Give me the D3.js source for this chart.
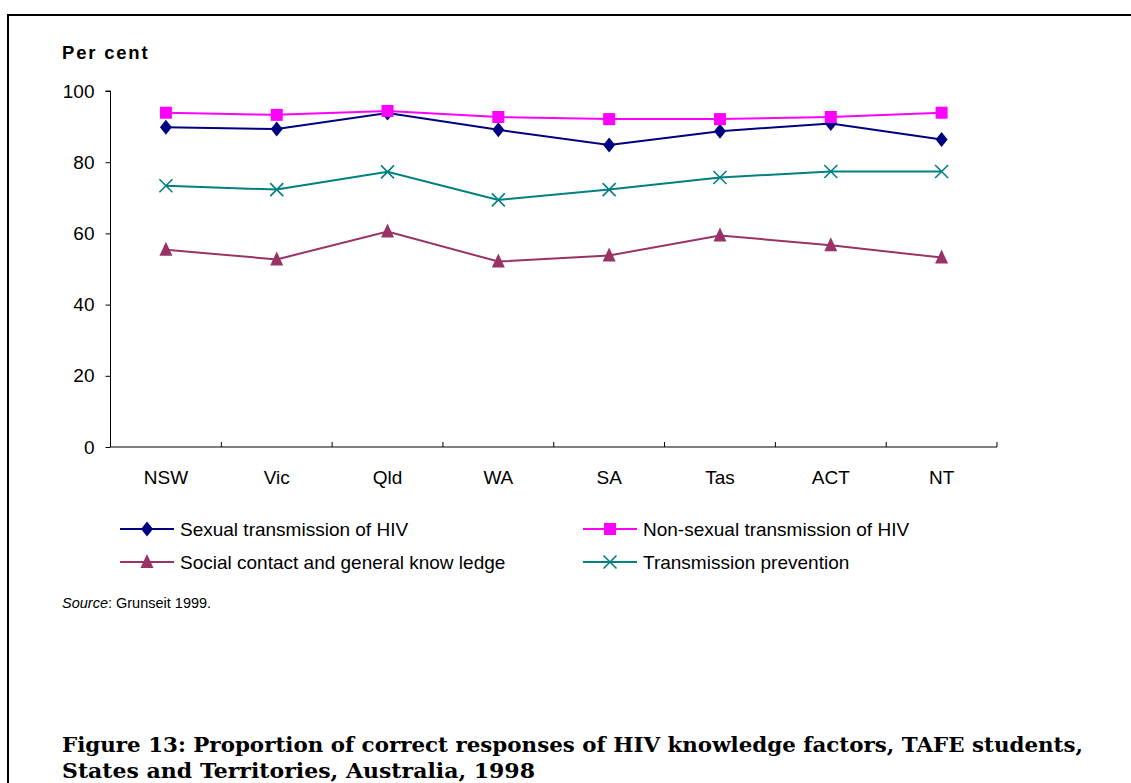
<!DOCTYPE html>
<html>
<head>
<meta charset="utf-8">
<script src="https://cdn.jsdelivr.net/npm/d3@7"></script>
<style>
  html, body { margin: 0; padding: 0; background: #fff; }
  svg { display: block; }
</style>
</head>
<body>
<svg id="chart" width="1131" height="783"></svg>
<script>
const categories = ["NSW", "Vic", "Qld", "WA", "SA", "Tas", "ACT", "NT"];
const sexualTransmission = [89.8, 89.3, 93.8, 89.1, 84.8, 88.7, 90.9, 86.4];
const nonSexualTransmission = [93.9, 93.3, 94.4, 92.7, 92.1, 92.1, 92.7, 93.9];
const socialContact = [55.4, 52.7, 60.5, 52.1, 53.8, 59.4, 56.7, 53.2];
const transmissionPrevention = [73.4, 72.3, 77.3, 69.4, 72.3, 75.7, 77.4, 77.4];
const yTicks = [0, 20, 40, 60, 80, 100];
const seriesNames = ["Sexual transmission of HIV", "Non-sexual transmission of HIV",
                     "Social contact and general know ledge", "Transmission prevention"];

const series = [
  { name: seriesNames[0], values: sexualTransmission, color: "#000080", marker: "diamond" },
  { name: seriesNames[1], values: nonSexualTransmission, color: "#FF00FF", marker: "square" },
  { name: seriesNames[2], values: socialContact, color: "#993366", marker: "triangle" },
  { name: seriesNames[3], values: transmissionPrevention, color: "#008080", marker: "cross" }
];

const svg = d3.select("#chart");
const font = "'Liberation Sans', Arial, sans-serif";

// frame
svg.append("path").attr("d", "M8,1000 V15 H1131").attr("fill", "none").attr("stroke", "#000").attr("stroke-width", 2);

const x = d3.scaleBand().domain(categories).range([110.5, 997]);
const y = d3.scaleLinear().domain([0, 100]).range([447, 91]);

// y axis
const gy = svg.append("g").attr("transform", "translate(110.5,0)")
  .call(d3.axisLeft(y).tickValues(yTicks).tickSize(5).tickPadding(11).tickFormat(d3.format("d")));
gy.select(".domain").attr("stroke", "#000").attr("d", `M-5,${y(100)}H0V${y(0)}`);
gy.selectAll("text").attr("font-family", font).attr("font-size", 19).attr("fill", "#000");

// x axis
const gx = svg.append("g").attr("transform", `translate(0,${y(0)})`);
gx.append("line").attr("x1", x.range()[0]).attr("x2", x.range()[1]).attr("stroke", "#000");
const edges = categories.map(c => x(c)).concat([x.range()[1]]);
gx.selectAll(".tk").data(edges).join("line")
  .attr("x1", d => d).attr("x2", d => d).attr("y1", -5).attr("y2", 0).attr("stroke", "#000");
gx.selectAll(".lbl").data(categories).join("text")
  .attr("x", d => x(d) + x.bandwidth() / 2).attr("y", 37)
  .attr("text-anchor", "middle").attr("font-family", font).attr("font-size", 19).text(d => d);

svg.append("text").attr("x", 62).attr("y", 59).attr("font-family", font)
  .attr("font-size", 18.5).attr("font-weight", "bold").attr("letter-spacing", 1.8).text("Per cent");

function drawMarker(g, type, color) {
  if (type === "diamond") {
    g.append("path").attr("d", "M0,-7.5L6,0L0,7.5L-6,0Z").attr("fill", color);
  } else if (type === "square") {
    g.append("rect").attr("x", -6).attr("y", -6).attr("width", 12).attr("height", 12).attr("fill", color);
  } else if (type === "triangle") {
    g.append("path").attr("d", "M0,-8L6.5,6L-6.5,6Z").attr("fill", color);
  } else {
    g.append("path").attr("d", "M-6.5,-6.5L6.5,6.5M-6.5,6.5L6.5,-6.5").attr("stroke", color).attr("stroke-width", 1.6).attr("fill", "none");
  }
}

const line = d3.line().x((d, i) => x(categories[i]) + x.bandwidth() / 2).y(d => y(d));

series.forEach(s => {
  svg.append("path").datum(s.values).attr("d", line)
    .attr("fill", "none").attr("stroke", s.color).attr("stroke-width", 2);
  s.values.forEach((v, i) => {
    const g = svg.append("g").attr("transform", `translate(${x(categories[i]) + x.bandwidth() / 2},${y(v)})`);
    drawMarker(g, s.marker, s.color);
  });
});

// legend
const legendPos = [[120, 529], [583, 529], [120, 562], [583, 562]];
series.forEach((s, i) => {
  const [lx, ly] = legendPos[i];
  const g = svg.append("g").attr("transform", `translate(${lx},${ly})`);
  g.append("line").attr("x1", 0).attr("x2", 54).attr("stroke", s.color).attr("stroke-width", 2);
  const m = g.append("g").attr("transform", "translate(27,0)");
  drawMarker(m, s.marker, s.color);
  g.append("text").attr("x", 60).attr("y", 7).attr("font-family", font).attr("font-size", 19).text(s.name);
});

// source
const src = svg.append("text").attr("x", 62).attr("y", 608).attr("font-family", font).attr("font-size", 14.5);
src.append("tspan").attr("font-style", "italic").text("Source");
src.append("tspan").text(": Grunseit 1999.");

// caption
const cap = svg.append("text").attr("font-family", "'DejaVu Serif', 'Liberation Serif', serif")
  .attr("font-size", 19.5).attr("font-weight", "bold");
cap.append("tspan").attr("x", 62).attr("y", 752)
  .attr("textLength", 1021).attr("lengthAdjust", "spacingAndGlyphs")
  .text("Figure 13: Proportion of correct responses of HIV knowledge factors, TAFE students,");
cap.append("tspan").attr("x", 62).attr("y", 778)
  .attr("textLength", 473).attr("lengthAdjust", "spacingAndGlyphs")
  .text("States and Territories, Australia, 1998");
</script>
</body>
</html>
